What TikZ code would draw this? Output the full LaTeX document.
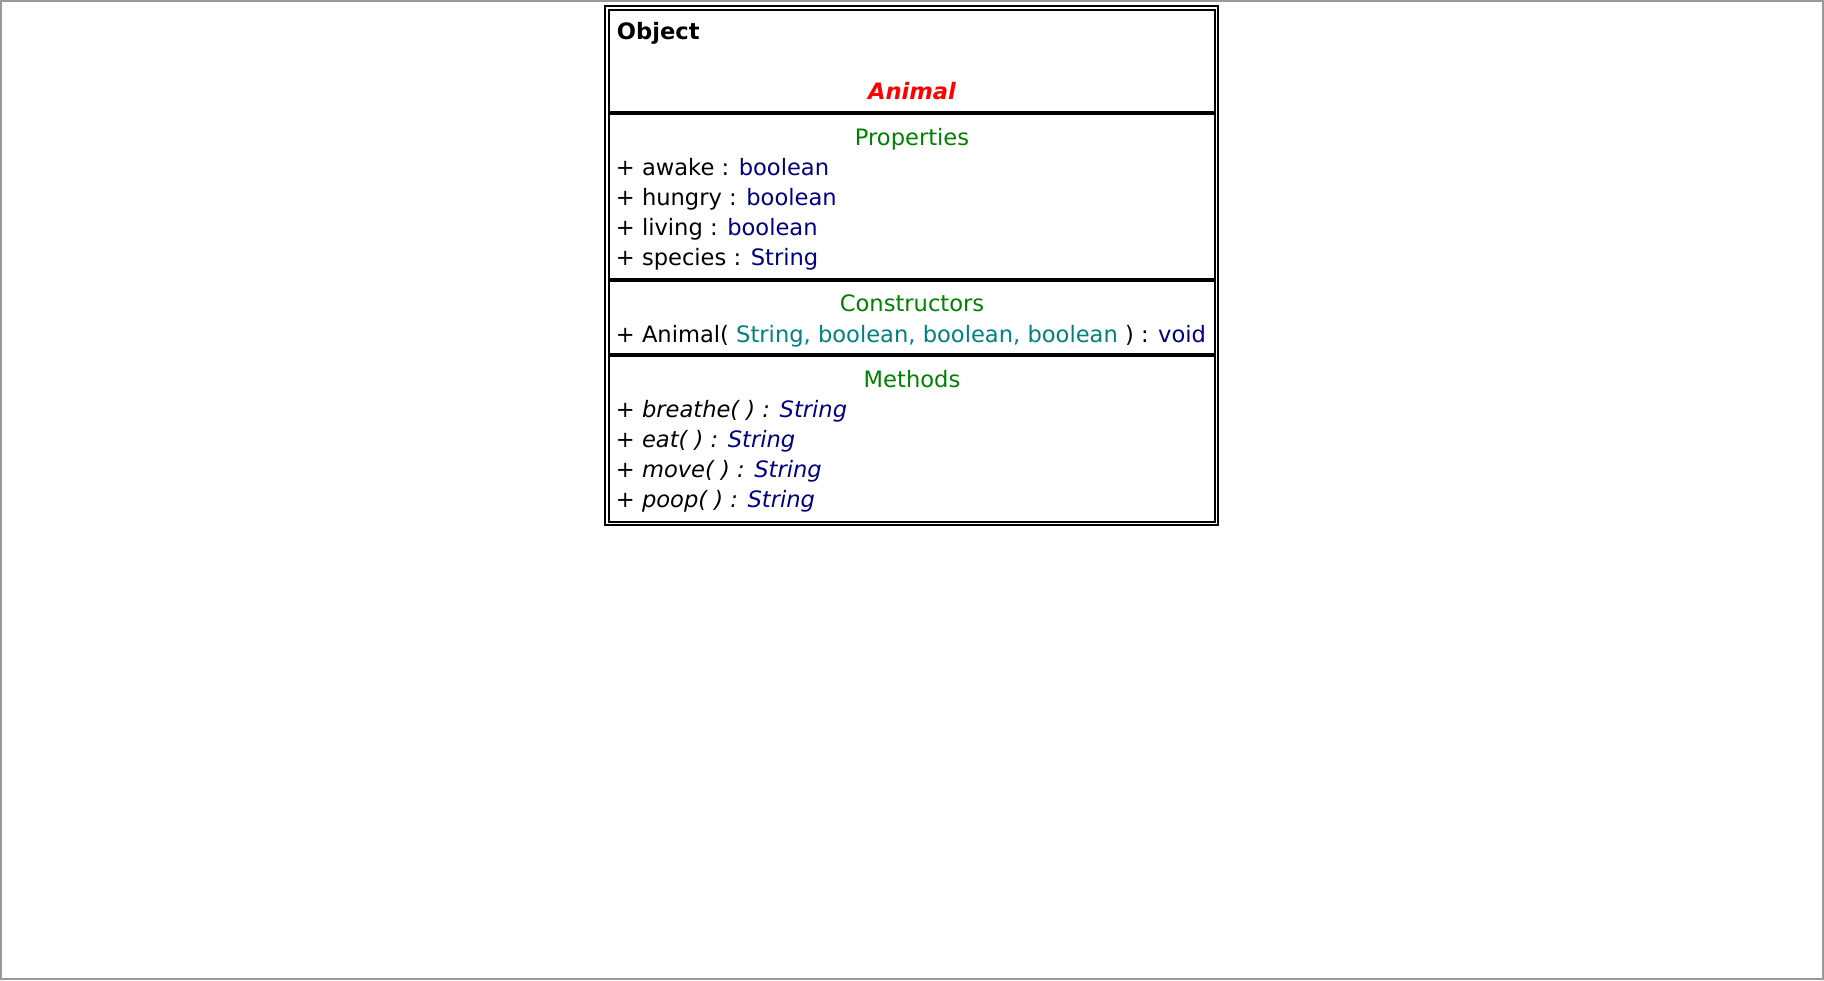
\documentclass[tikz,border=0pt]{standalone}
\usepackage{fontspec}
\setmainfont{DejaVu Sans}
\definecolor{umlgreen}{RGB}{0,128,0}
\definecolor{umlnavy}{RGB}{0,0,128}
\definecolor{umlteal}{RGB}{0,128,128}

\begin{document}
\begin{tikzpicture}[x=0.5pt,y=-0.5pt,
        txt/.style={inner sep=0pt,anchor=base west,font=\fontsize{11.3}{13}\selectfont},
        head/.style={txt,anchor=base,text=umlgreen}]
            \useasboundingbox (0,0) rectangle (1824,980);
            % Frame
            \draw[gray!80,line width=1pt] (1,1) rectangle (1823,979);
            
            % Class box
            \draw[line width=1pt] (604.5,5.5) rectangle (1218,525);
            \draw[line width=1pt] (609,10) rectangle (1215,521.5);
            \foreach \y in {113,280,355}
                \draw[line width=2pt] (609,\y) -- (1215,\y);
            
            % Name
            \node[txt] (object) at (616.5,39.5) {\bfseries Object};
            \node[txt,anchor=base,text=red] (animal) at (912,99) {\bfseries\itshape Animal};
            
            % Properties
            \node[head] (properties) at (912,145) {Properties};
            \foreach \y/\name/\type in {175/awake/boolean,205/hungry/boolean,235/living/boolean,265/species/String}
                \node[txt] (\name) at (615.5,\y) {+ \name{} : \textcolor{umlnavy}{\type}};
            
            % Constructors
            \node[head] (constructors) at (912,311) {Constructors};
            \node[txt] (ctor) at (615.5,342) {+ Animal( \textcolor{umlteal}{String, boolean, boolean, boolean} ) : \textcolor{umlnavy}{void}};
            
            % Methods
            \node[head] (methods) at (912,387) {Methods};
            \foreach \y/\name in {417/breathe,447/eat,477/move,507/poop}
                \node[txt] (\name) at (615.5,\y) {\itshape + \name( ) : \textcolor{umlnavy}{String}};
        \end{tikzpicture}
\end{document}
